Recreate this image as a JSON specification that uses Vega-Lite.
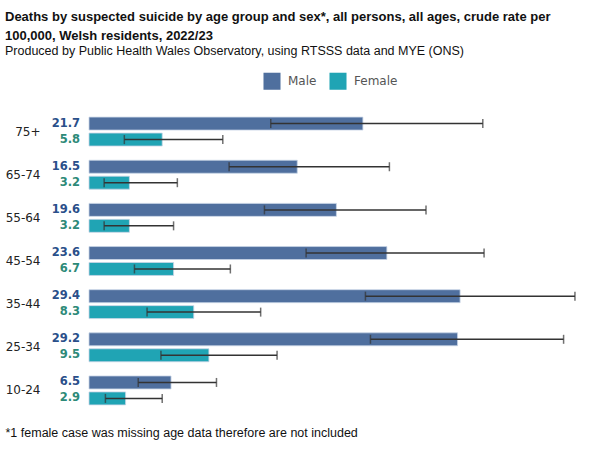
{
  "$schema": "https://vega.github.io/schema/vega-lite/v6.json",
  "width": 491,
  "height": 302,
  "autosize": {"type": "none"},
  "padding": {"left": 89, "top": 110, "right": 20, "bottom": 38},
  "background": "white",
  "view": {"stroke": null},
  "title": {
    "text": ["Deaths by suspected suicide by age group and sex*, all persons, all ages, crude rate per", "100,000, Welsh residents, 2022/23"],
    "subtitle": "Produced by Public Health Wales Observatory, using RTSSS data and MYE (ONS)",
    "anchor": "start",
    "frame": "group",
    "dx": -84,
    "offset": 15,
    "font": "Liberation Sans",
    "fontSize": 13,
    "fontWeight": "bold",
    "color": "#111111",
    "lineHeight": 19,
    "subtitleFont": "Liberation Sans",
    "subtitleFontSize": 12.5,
    "subtitleColor": "#111111",
    "subtitlePadding": 2
  },
  "data": {
    "values": [
      {"age": "75+", "sex": "Male", "rate": 21.7, "lo": 14.4, "hi": 31.2},
      {"age": "75+", "sex": "Female", "rate": 5.8, "lo": 2.8, "hi": 10.6},
      {"age": "65-74", "sex": "Male", "rate": 16.5, "lo": 11.1, "hi": 23.8},
      {"age": "65-74", "sex": "Female", "rate": 3.2, "lo": 1.2, "hi": 7.0},
      {"age": "55-64", "sex": "Male", "rate": 19.6, "lo": 13.9, "hi": 26.7},
      {"age": "55-64", "sex": "Female", "rate": 3.2, "lo": 1.2, "hi": 6.7},
      {"age": "45-54", "sex": "Male", "rate": 23.6, "lo": 17.2, "hi": 31.3},
      {"age": "45-54", "sex": "Female", "rate": 6.7, "lo": 3.6, "hi": 11.2},
      {"age": "35-44", "sex": "Male", "rate": 29.4, "lo": 21.9, "hi": 38.5},
      {"age": "35-44", "sex": "Female", "rate": 8.3, "lo": 4.6, "hi": 13.6},
      {"age": "25-34", "sex": "Male", "rate": 29.2, "lo": 22.3, "hi": 37.6},
      {"age": "25-34", "sex": "Female", "rate": 9.5, "lo": 5.7, "hi": 14.9},
      {"age": "10-24", "sex": "Male", "rate": 6.5, "lo": 3.9, "hi": 10.1},
      {"age": "10-24", "sex": "Female", "rate": 2.9, "lo": 1.3, "hi": 5.8}
    ]
  },
  "encoding": {
    "y": {
      "field": "age",
      "type": "nominal",
      "sort": ["75+", "65-74", "55-64", "45-54", "35-44", "25-34", "10-24"],
      "scale": {"paddingInner": 0.33, "paddingOuter": 0.165},
      "axis": {
        "title": null,
        "ticks": false,
        "domain": false,
        "labelPadding": 49,
        "labelFont": "DejaVu Sans",
        "labelFontSize": 12,
        "labelColor": "#222222"
      }
    },
    "yOffset": {
      "field": "sex",
      "type": "nominal",
      "sort": ["Male", "Female"],
      "scale": {"paddingInner": 0.1875, "paddingOuter": 0}
    }
  },
  "layer": [
    {
      "mark": {"type": "bar", "stroke": "#c8d4e6", "strokeWidth": 0.8},
      "encoding": {
        "x": {
          "field": "rate",
          "type": "quantitative",
          "scale": {"domain": [0, 38.9], "nice": false},
          "axis": {
            "labels": false,
            "ticks": false,
            "domain": false,
            "grid": false,
            "title": "*1 female case was missing age data therefore are not included",
            "titleX": -84,
            "titleY": 20,
            "titleAlign": "left",
            "titleBaseline": "middle",
            "titleFont": "Liberation Sans",
            "titleFontSize": 12.5,
            "titleFontWeight": "normal",
            "titleColor": "#111111"
          }
        },
        "color": {
          "field": "sex",
          "type": "nominal",
          "sort": ["Male", "Female"],
          "scale": {"domain": ["Male", "Female"], "range": ["#4f6f9e", "#20a4b4"]},
          "legend": {
            "title": null,
            "orient": "none",
            "direction": "horizontal",
            "legendX": 174,
            "legendY": -38,
            "symbolType": "square",
            "symbolSize": 290,
            "symbolStrokeWidth": 0,
            "labelFont": "DejaVu Sans",
            "labelFontSize": 12,
            "labelColor": "#555555",
            "labelOffset": 7,
            "columnPadding": 12
          }
        }
      }
    },
    {
      "mark": {"type": "rule", "color": "#333333", "strokeWidth": 1.5},
      "encoding": {
        "x": {"field": "lo", "type": "quantitative"},
        "x2": {"field": "hi"}
      }
    },
    {
      "mark": {"type": "tick", "color": "#333333", "thickness": 1.5, "size": 9},
      "encoding": {
        "x": {"field": "lo", "type": "quantitative"}
      }
    },
    {
      "mark": {"type": "tick", "color": "#333333", "thickness": 1.5, "size": 9},
      "encoding": {
        "x": {"field": "hi", "type": "quantitative"}
      }
    },
    {
      "mark": {"type": "text", "align": "right", "baseline": "middle", "dx": -9, "font": "DejaVu Sans", "fontSize": 11.5, "fontWeight": "bold"},
      "encoding": {
        "x": {"datum": 0},
        "text": {"field": "rate", "type": "quantitative", "format": ".1f"},
        "color": {
          "condition": {"test": "datum.sex === 'Male'", "value": "#2a4f8a"},
          "value": "#2d8a78"
        }
      }
    }
  ]
}
